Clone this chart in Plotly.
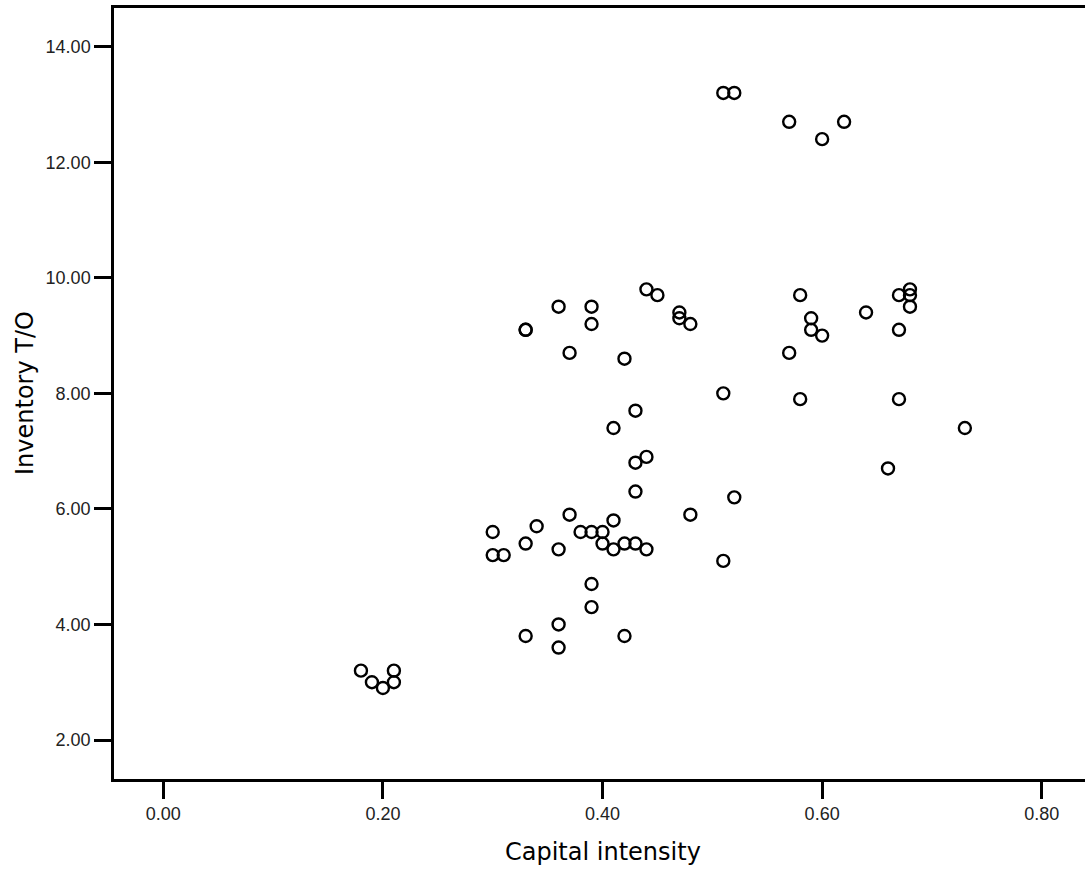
import plotly.graph_objects as go

capital_intensity = [
    0.18, 0.19, 0.20, 0.21, 0.21,
    0.30, 0.30, 0.31, 0.33, 0.34, 0.36, 0.37, 0.38, 0.39, 0.40, 0.40, 0.41, 0.41,
    0.42, 0.43, 0.44, 0.48, 0.51, 0.52,
    0.33, 0.36, 0.36, 0.39, 0.39, 0.42,
    0.43, 0.43, 0.44, 0.41, 0.43, 0.51,
    0.33, 0.33, 0.36, 0.37, 0.39, 0.39, 0.42, 0.44, 0.45, 0.47, 0.47, 0.48,
    0.57, 0.58, 0.58, 0.59, 0.59, 0.60, 0.64, 0.66, 0.67, 0.67, 0.67, 0.68, 0.68, 0.68, 0.73,
    0.51, 0.52, 0.57, 0.60, 0.62,
]
inventory_to = [
    3.2, 3.0, 2.9, 3.2, 3.0,
    5.6, 5.2, 5.2, 5.4, 5.7, 5.3, 5.9, 5.6, 5.6, 5.6, 5.4, 5.8, 5.3,
    5.4, 5.4, 5.3, 5.9, 5.1, 6.2,
    3.8, 4.0, 3.6, 4.7, 4.3, 3.8,
    6.3, 6.8, 6.9, 7.4, 7.7, 8.0,
    9.1, 9.1, 9.5, 8.7, 9.5, 9.2, 8.6, 9.8, 9.7, 9.4, 9.3, 9.2,
    8.7, 9.7, 7.9, 9.3, 9.1, 9.0, 9.4, 6.7, 9.7, 9.1, 7.9, 9.8, 9.7, 9.5, 7.4,
    13.2, 13.2, 12.7, 12.4, 12.7,
]

x_ticks = [0.0, 0.2, 0.4, 0.6, 0.8]
y_ticks = [2, 4, 6, 8, 10, 12, 14]

fig = go.Figure(
    go.Scatter(
        x=capital_intensity,
        y=inventory_to,
        mode="markers",
        marker=dict(symbol="circle-open", size=12, color="black",
                    line=dict(width=2.4, color="black")),
        hoverinfo="x+y",
    )
)

tick_font = dict(family="Liberation Sans, Arial, sans-serif", size=18, color="#222222")
title_font = dict(family="DejaVu Sans, sans-serif", size=24, color="black")

fig.update_layout(
    width=1085,
    height=870,
    margin=dict(l=114, r=0, t=8, b=91),
    paper_bgcolor="white",
    plot_bgcolor="white",
    showlegend=False,
    xaxis=dict(
        range=[-0.0449, 0.8394],
        tickvals=x_ticks,
        ticktext=[f"{v:.2f}" for v in x_ticks],
        showgrid=False, zeroline=False,
        showline=True, linewidth=2.5, linecolor="black", mirror=True,
        ticks="outside", ticklen=17, tickwidth=2.5, tickcolor="black",
        tickfont=tick_font,
    ),
    yaxis=dict(
        range=[1.325, 14.67],
        tickvals=y_ticks,
        ticktext=[f"{v:.2f}" for v in y_ticks],
        showgrid=False, zeroline=False,
        showline=True, linewidth=2.5, linecolor="black",
        ticks="outside", ticklen=17, tickwidth=2.5, tickcolor="black",
        tickfont=tick_font,
    ),
    annotations=[
        dict(text="Capital intensity", xref="paper", yref="paper",
             x=0.5036, y=-0.0947, xanchor="center", yanchor="middle",
             showarrow=False, font=title_font),
        dict(text="Inventory T/O", xref="paper", yref="paper",
             x=-0.0917, y=0.5006, xanchor="center", yanchor="middle",
             textangle=-90, showarrow=False, font=title_font),
    ],
)

fig.write_html(
    "out.html",
    config={"displayModeBar": False},
    post_script="document.body.style.margin='0';document.body.style.overflow='hidden';",
)
